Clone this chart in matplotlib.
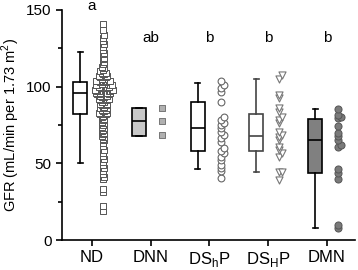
import numpy as np
import matplotlib
matplotlib.use("Agg")
import matplotlib.pyplot as plt

plt.rcParams['font.family'] = ['Liberation Sans', 'DejaVu Sans']

# --- data
groups = ['ND', 'DNN', 'DS$_\\mathregular{h}$P', 'DS$_\\mathregular{H}$P', 'DMN']
letters = ['a', 'ab', 'b', 'b', 'b']

box_whislo = [50, 67.8, 46.3, 44.2, 7.6]
box_q1 = [82, 67.8, 58, 58, 43.5]
box_med = [95.7, 77.6, 73, 67.8, 65.2]
box_q3 = [103.2, 85.9, 89.8, 82.2, 78.7]
box_whishi = [122.4, 85.9, 102.2, 104.8, 85.2]

nd_vals = [141, 137, 134, 132, 130, 128, 126, 124, 122, 121, 119, 118, 116,
           115, 113, 112, 111, 110, 109, 109, 108, 108, 107, 107, 106, 106,
           105, 105, 105, 104, 104, 104, 103.5, 103.5, 103.5,
           103, 103, 102, 102, 102, 101, 101, 101, 101, 100, 100, 100, 100,
           99, 99, 99, 99, 98, 98, 98, 98, 97, 97, 97, 97, 96, 96, 96, 96,
           96, 96, 95.8, 95.8,
           95, 95, 95, 94, 94, 94, 93, 93, 93, 92, 92, 92, 91, 91, 90, 90,
           90, 89, 89, 88, 88, 87, 87, 86, 86, 85, 85, 84, 84, 83, 83, 82.5,
           82.5, 82, 82,
           81, 80, 79, 78, 77, 76, 75, 74, 73, 72, 71, 70, 69, 68, 67, 66,
           65, 63, 61, 59, 57, 55, 53, 51, 49, 47, 45, 43, 41, 40, 33, 31,
           22, 19]
dnn_vals = [86.3, 77.8, 68.5]
dshp_vals = [103.7, 101.1, 99, 96.7, 90.2, 80, 78.3, 76.5, 75, 73.2, 70.6,
             68.5, 66.3, 64.1, 59.8, 58.2, 56.5, 54.3, 52.2, 48.9, 46.7,
             44.9, 40.2]
dsHp_vals = [107.6, 105, 94.6, 92.4, 85.9, 83.7, 80.4, 78.3, 76.1, 70.6,
             68.5, 67.4, 65.2, 60.9, 58.7, 56.5, 54.3, 44.6, 44.6, 39]
dmn_vals = [85.2, 81.5, 80, 79.3, 74.3, 69.6, 68, 65.2, 62, 60.9, 46.3,
            43.5, 39.8, 9.8, 8]
#-----------------------------------------------------------


def swarm(vals, binw, step):
    # spread points of the same height sideways
    vals = np.sort(np.asarray(vals, dtype=float))
    offs = np.zeros(len(vals))
    bins = np.floor(vals / binw)
    for b in np.unique(bins):
        idx = np.where(bins == b)[0]
        for k, i in enumerate(idx):
            n = (k + 1) // 2
            offs[i] = n * step if k % 2 == 1 else -n * step
    return vals, offs


fig = plt.figure(figsize=(3.58, 2.70), dpi=100)
ax = fig.add_axes([0.173, 0.111, 0.819, 0.852])

box_fill = ['white', '#c8c8c8', 'white', 'white', '#808080']
box_edge = ['black', 'black', 'black', '#444444', 'black']
stats = []
for i in range(5):
    stats.append(dict(whislo=box_whislo[i], q1=box_q1[i], med=box_med[i],
                      q3=box_q3[i], whishi=box_whishi[i], fliers=[]))

pos = np.arange(5)
for i in range(5):
    ax.bxp([stats[i]], positions=[pos[i] - 0.2], widths=0.24,
           patch_artist=True, showfliers=False,
           boxprops=dict(facecolor=box_fill[i], edgecolor=box_edge[i], linewidth=1.2),
           medianprops=dict(color=box_edge[i], linewidth=1.2),
           whiskerprops=dict(color=box_edge[i], linewidth=1.2),
           capprops=dict(color=box_edge[i], linewidth=1.2),
           capwidths=0.09)

sc_x = 0.19
v, o = swarm(nd_vals, 3.0, 0.024)
ax.scatter(pos[0] + sc_x + o, v, s=13, marker='s', facecolor='white',
           edgecolor='#555555', linewidth=0.7, zorder=3)
v, o = swarm(dnn_vals, 3.0, 0.07)
ax.scatter(pos[1] + sc_x + o, v, s=13, marker='s', facecolor='#b0b0b0',
           edgecolor='#777777', linewidth=0.7, zorder=3)
v, o = swarm(dshp_vals, 3.0, 0.05)
ax.scatter(pos[2] + sc_x + o, v, s=24, marker='o', facecolor='white',
           edgecolor='#666666', linewidth=0.8, zorder=3)
v, o = swarm(dsHp_vals, 3.0, 0.05)
ax.scatter(pos[3] + sc_x + o, v, s=26, marker='v', facecolor='white',
           edgecolor='#777777', linewidth=0.8, zorder=3)
v, o = swarm(dmn_vals, 3.0, 0.05)
ax.scatter(pos[4] + sc_x + o, v, s=26, marker='o', facecolor='#7a7a7a',
           edgecolor='#555555', linewidth=0.7, zorder=3)

ax.text(pos[0], 152.5, letters[0], ha='center', va='center', fontsize=11,
        clip_on=False)
for i in range(1, 5):
    ax.text(pos[i], 131.5, letters[i], ha='center', va='center', fontsize=11)

ax.set_xlim(-0.51, 4.48)
ax.set_ylim(0, 150)
ax.set_xticks(pos)
ax.set_xticklabels(groups, fontsize=12)
ax.set_yticks([0, 50, 100, 150])
ax.set_yticks([25, 75, 125], minor=True)
ax.tick_params(axis='y', labelsize=11, width=1.2, length=4)
ax.tick_params(axis='y', which='minor', width=1.2, length=3)
ax.tick_params(axis='x', width=1.2, length=4)
ax.set_ylabel('GFR (mL/min per 1.73 m$^\\mathregular{2}$)', fontsize=10.5,
              labelpad=3)
ax.spines['top'].set_visible(False)
ax.spines['right'].set_visible(False)
ax.spines['left'].set_linewidth(1.2)
ax.spines['bottom'].set_linewidth(1.2)

fig.savefig('out.png', dpi=100)
